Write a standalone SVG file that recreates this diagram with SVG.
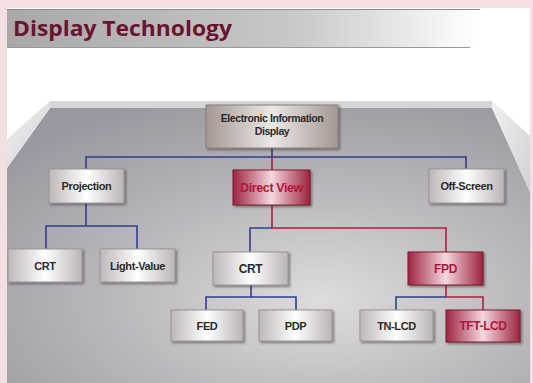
<svg xmlns="http://www.w3.org/2000/svg" width="533" height="383" viewBox="0 0 533 383">
<defs>
<linearGradient id="hdr" x1="0" y1="0" x2="1" y2="0">
<stop offset="0" stop-color="#a9a7a8"/>
<stop offset="0.55" stop-color="#c9c7c8"/>
<stop offset="0.9" stop-color="#ffffff"/>
</linearGradient>
<radialGradient id="floor" cx="0.6" cy="0.7" r="0.8">
<stop offset="0" stop-color="#dedcdd"/>
<stop offset="0.45" stop-color="#bdbbbe"/>
<stop offset="1" stop-color="#9a97a0"/>
</radialGradient>
<linearGradient id="lwall" x1="0" y1="0" x2="1" y2="1">
<stop offset="0" stop-color="#f0f0f2"/>
<stop offset="1" stop-color="#d2d2d6"/>
</linearGradient>
<linearGradient id="gbox" x1="0" y1="0" x2="1" y2="0">
<stop offset="0" stop-color="#bdb6b9"/>
<stop offset="0.5" stop-color="#ffffff"/>
<stop offset="1" stop-color="#bbb4b7"/>
</linearGradient>
<linearGradient id="rbox" x1="0" y1="0" x2="1" y2="0">
<stop offset="0" stop-color="#9e2440"/>
<stop offset="0.5" stop-color="#f5d8df"/>
<stop offset="1" stop-color="#9c233c"/>
</linearGradient>
<linearGradient id="ebox" x1="0" y1="0" x2="1" y2="0">
<stop offset="0" stop-color="#a49894"/>
<stop offset="0.5" stop-color="#ece8e6"/>
<stop offset="1" stop-color="#a39793"/>
</linearGradient>
<filter id="sh" x="-10%" y="-10%" width="130%" height="140%">
<feDropShadow dx="1.5" dy="1.5" stdDeviation="1" flood-color="#333" flood-opacity="0.55"/>
</filter>
<style>
.g{fill:url(#gbox);stroke:#9a9598;stroke-width:1;filter:url(#sh)}
.r{fill:url(#rbox);stroke:#7c1a2c;stroke-width:1;filter:url(#sh)}
.e{fill:url(#ebox);stroke:#8a807c;stroke-width:1;filter:url(#sh)}
text{font-family:"Liberation Sans",Arial,sans-serif;font-weight:bold;font-size:11px;text-anchor:middle;fill:#2a2a2a;letter-spacing:-0.4px}
.rt{fill:#b0183a}
.b{fill:none;stroke:#2e3f8e;stroke-width:1.6}
.rd{fill:none;stroke:#b0203c;stroke-width:1.6}
</style>
</defs>
<rect x="0" y="0" width="533" height="383" fill="#f3dfe2"/>
<rect x="7" y="8" width="523" height="375" fill="#ffffff"/>
<rect x="7" y="9" width="523" height="39" fill="url(#hdr)"/>
<line x1="7" y1="9.5" x2="480" y2="9.5" stroke="#8c8a8b" stroke-width="1"/>
<line x1="7" y1="47.5" x2="470" y2="47.5" stroke="#9a9899" stroke-width="1"/>
<text x="13" y="36" style="font-family:'Open Sans','Liberation Sans',sans-serif;font-size:21px;text-anchor:start;fill:#6a1430;letter-spacing:0" textLength="219" lengthAdjust="spacingAndGlyphs">Display  Technology</text>
<polygon points="7,168 50,108 492,108 530,192 530,383 7,383" fill="url(#floor)"/>
<polygon points="50,101 7,139 7,168 50,108" fill="url(#lwall)"/>
<polygon points="492,101 530,136 530,192 492,108" fill="url(#lwall)"/>
<rect x="50" y="101" width="442" height="7" fill="#d6d5d9"/>
<g id="connectors">
<path class="b" d="M272,148V157M86,169V157H466V169"/>
<path class="rd" d="M272,157V170"/>
<path class="b" d="M86,203V226M46,249V226H137V249"/>
<path class="rd" d="M272,205V228H446V252"/>
<path class="b" d="M272,228H250V252"/>
<path class="b" d="M251,285V297M206,310V297H296V310"/>
<path class="rd" d="M446,285V297H483V310"/>
<path class="b" d="M446,297H396V310"/>
</g>
<g id="n-eid"><rect class="e" x="206" y="105" width="132" height="43"/><text x="272" y="122" style="font-size:10.5px">Electronic Information</text><text x="272" y="135" style="font-size:10.5px">Display</text></g>
<g id="n-projection"><rect class="g" x="49" y="169" width="75" height="34"/><text x="86.5" y="190">Projection</text></g>
<g id="n-directview"><rect class="r" x="233" y="170" width="77" height="35"/><text class="rt" x="271.5" y="192" style="font-size:12.5px">Direct View</text></g>
<g id="n-offscreen"><rect class="g" x="429" y="169" width="75" height="34"/><text x="466.5" y="190">Off-Screen</text></g>
<g id="n-crt1"><rect class="g" x="8" y="249" width="74" height="33"/><text x="45" y="269.5">CRT</text></g>
<g id="n-lightvalue"><rect class="g" x="100" y="249" width="75" height="33"/><text x="137.5" y="269.5">Light-Value</text></g>
<g id="n-crt2"><rect class="g" x="213" y="252" width="75" height="33"/><text x="250.5" y="272.5" style="font-size:12px">CRT</text></g>
<g id="n-fpd"><rect class="r" x="408" y="252" width="75" height="33"/><text class="rt" x="445.5" y="272.5" style="font-size:12px">FPD</text></g>
<g id="n-fed"><rect class="g" x="171" y="310" width="72" height="31"/><text x="207" y="329.5">FED</text></g>
<g id="n-pdp"><rect class="g" x="259" y="310" width="73" height="31"/><text x="295.5" y="329.5">PDP</text></g>
<g id="n-tnlcd"><rect class="g" x="360" y="310" width="73" height="31"/><text x="396.5" y="329.5">TN-LCD</text></g>
<g id="n-tftlcd"><rect class="r" x="446" y="310" width="74" height="32"/><text class="rt" x="483" y="330" style="font-size:12px">TFT-LCD</text></g>
</svg>
